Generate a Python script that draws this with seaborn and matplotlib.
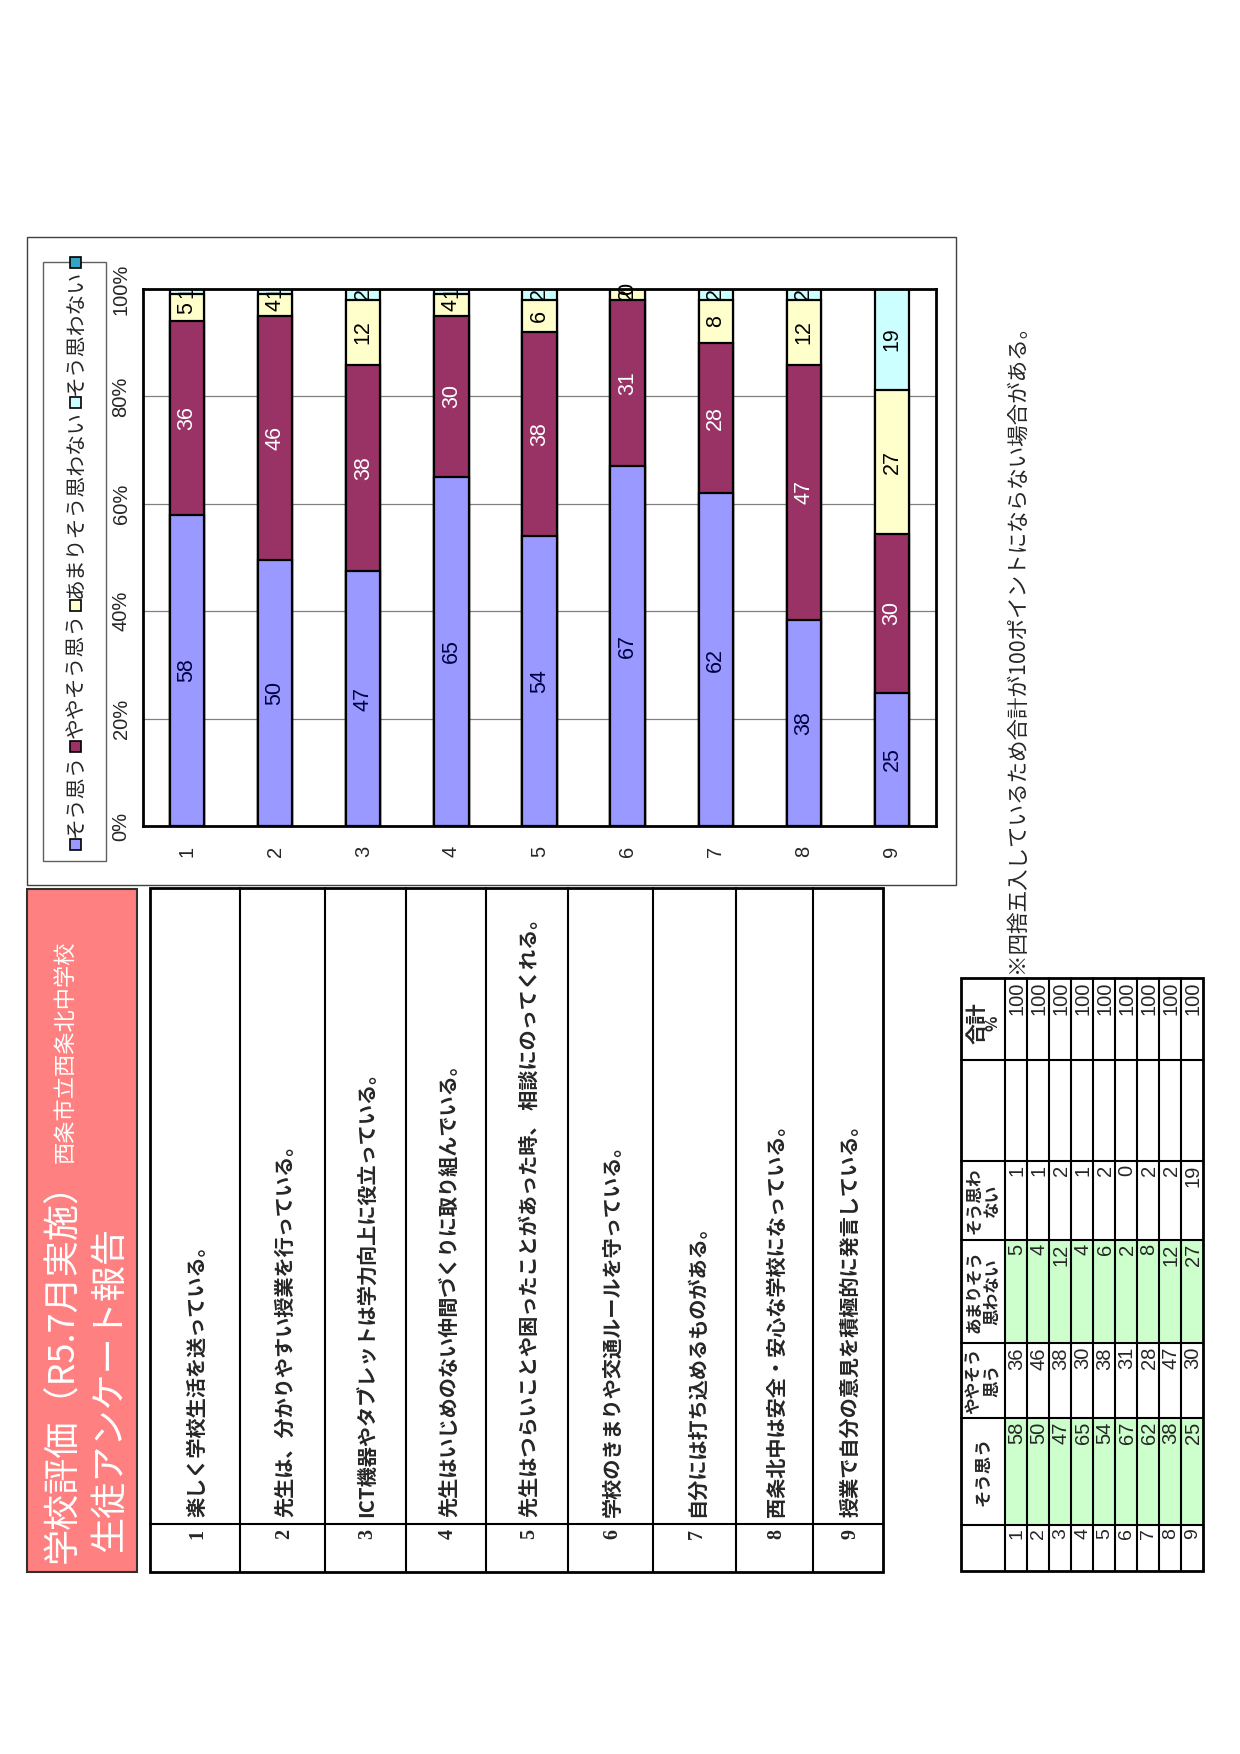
import numpy as np
import pandas as pd
import matplotlib
matplotlib.use('Agg')
import matplotlib.pyplot as plt
import seaborn as sns
from matplotlib.patches import Rectangle

sns.set_style('white')
plt.rcParams['font.family'] = ['Noto Sans CJK JP', 'DejaVu Sans']

# データ
items = ['1', '2', '3', '4', '5', '6', '7', '8', '9']
sou = [58, 50, 47, 65, 54, 67, 62, 38, 25]
yaya = [36, 46, 38, 30, 38, 31, 28, 47, 30]
amari = [5, 4, 12, 4, 6, 2, 8, 12, 27]
sonai = [1, 1, 2, 1, 2, 0, 2, 2, 19]
totals = [100, 100, 100, 100, 100, 100, 100, 100, 100]

series_names = ['そう思う', 'ややそう思う', 'あまりそう思わない', 'そう思わない']
series_colors = ['#9999FF', '#993366', '#FFFFCC', '#CCFFFF']
label_colors = ['#000040', 'white', 'black', 'black']
pct_ticks = [0, 20, 40, 60, 80, 100]

questions = [
    '楽しく学校生活を送っている。',
    '先生は、分かりやすい授業を行っている。',
    'ICT機器やタブレットは学力向上に役立っている。',
    '先生はいじめのない仲間づくりに取り組んでいる。',
    '先生はつらいことや困ったことがあった時、 相談にのってくれる。',
    '学校のきまりや交通ルールを守っている。',
    '自分には打ち込めるものがある。',
    '西条北中は安全・安心な学校になっている。',
    '授業で自分の意見を積極的に発言している。',
]
title1 = '学校評価（R5.7月実施）'
school = '西条市立西条北中学校'
title2 = '生徒アンケート報告'
note = '※四捨五入しているため合計が100ポイントにならない場合がある。'

cols = ['sou', 'yaya', 'amari', 'sonai']
df = pd.DataFrame({'item': items, 'sou': sou, 'yaya': yaya, 'amari': amari, 'sonai': sonai})
pct = df[cols].div(df[cols].sum(axis=1), axis=0) * 100
cum = pct.cumsum(axis=1)

W, H = 1240, 1754
fig = plt.figure(figsize=(12.4, 17.54), dpi=100)
bg = fig.add_axes([0, 0, 1, 1])
bg.set_xlim(0, W)
bg.set_ylim(H, 0)
bg.axis('off')

num_font = ['Liberation Sans', 'DejaVu Sans']


def box(x0, y0, x1, y1, **kw):
    bg.add_patch(Rectangle((x0, y0), x1 - x0, y1 - y0, **kw))


def vtext(x, y, s, **kw):
    # 90度回転した文字（下から上へ）
    kw.setdefault('rotation', 90)
    kw.setdefault('rotation_mode', 'anchor')
    return bg.text(x, y, s, **kw)


# グラフ枠と凡例枠
box(27, 237, 956, 885, fill=False, edgecolor='#404040', lw=1)
box(43, 262, 106, 861, fill=False, edgecolor='#606060', lw=1)

# 積み上げ棒グラフ
ax = fig.add_axes([143 / W, 1 - 826 / H, (936 - 143) / W, (826 - 289) / H])
ax.set_facecolor('white')
for k in range(3, -1, -1):
    d = pd.DataFrame({'item': items, 'top': cum[cols[k]].values})
    sns.barplot(data=d, x='item', y='top', order=items, color=series_colors[k],
                saturation=1, width=0.39, edgecolor='black', linewidth=1.6,
                errorbar=None, ax=ax)
ax.set_xlim(-0.5, 8.5)
ax.set_ylim(0, 100)
ax.set_xlabel('')
ax.set_ylabel('')
ax.yaxis.grid(True, color='#808080', lw=0.9)
ax.set_axisbelow(True)
for s in ax.spines.values():
    s.set_linewidth(2)
    s.set_color('black')
ax.set_yticks(pct_ticks)
ax.set_yticklabels([f'{t}%' for t in pct_ticks], rotation=90, va='center', fontsize=14.5,
                   family=num_font)
ax.tick_params(axis='y', length=0, pad=9)
ax.set_xticks(range(len(items)))
ax.set_xticklabels(items, rotation=90, fontsize=14.5, family=num_font)
ax.tick_params(axis='x', which='major', length=0, pad=14)
ax.set_xticks(np.arange(0.5, 8, 1), minor=True)
ax.tick_params(axis='x', which='minor', direction='in', length=5, width=1, color='#606060')

for i in range(len(items)):
    for k, c in enumerate(cols):
        mid = cum[c].iloc[i] - pct[c].iloc[i] / 2
        ax.text(i, mid, str(df[c].iloc[i]), rotation=90, rotation_mode='anchor',
                ha='center', va='center', color=label_colors[k], fontsize=15.5,
                family=num_font)

# 凡例（手書き配置）
fig.canvas.draw()
r = fig.canvas.get_renderer()
y = 850
lx = 75
for c, lab in zip(series_colors + ['#33A3C6'], series_names + ['']):
    box(lx - 5.5, y - 11, lx + 5.5, y, facecolor=c, edgecolor='black', lw=1.2)
    y -= 13
    if lab:
        t = vtext(lx + 1, y, lab, ha='left', va='center', fontsize=15)
        y -= t.get_window_extent(r).height + 2

# タイトル
box(27, 889, 137, 1572, facecolor='#FF8080', edgecolor='#303030', lw=1.5)
t = vtext(73, 1563, title1, ha='left', va='baseline', fontsize=26, color='white')
h = t.get_window_extent(r).height
vtext(72, 1563 - h - 2, school, ha='left', va='baseline', fontsize=16, color='white')
vtext(120, 1552, title2, ha='left', va='baseline', fontsize=26, color='white')

# 質問表
rows_x = [150, 240, 325, 406, 486, 568, 653, 736, 813, 883]
box(150, 888, 883, 1572, fill=False, edgecolor='black', lw=2)
for x in rows_x[1:-1]:
    bg.plot([x, x], [888, 1572], color='black', lw=1.5)
bg.plot([150, 883], [1524, 1524], color='black', lw=1.5)
for i, q in enumerate(questions):
    cx = (rows_x[i] + rows_x[i + 1]) / 2 + 2
    vtext(cx, 1534, str(i + 1), ha='center', va='center', fontsize=14.5, weight='bold',
          family=['Liberation Serif', 'DejaVu Serif'])
    vtext(cx, 1517, q, ha='left', va='center', fontsize=14.5, weight='bold')

# 注記
vtext(1017, 973, note, ha='left', va='center', fontsize=15.5)

# 数値表
tx = [961, 1005, 1027, 1049, 1071, 1093, 1115, 1137, 1159, 1181, 1203]
ty = [978, 1060, 1161, 1240, 1343, 1418, 1525, 1571]
box(1005, 1418, 1203, 1525, facecolor='#CCFFCC', lw=0)
box(1005, 1240, 1203, 1343, facecolor='#CCFFCC', lw=0)
box(961, 978, 1203, 1571, fill=False, edgecolor='black', lw=2)
for x in tx[1:-1]:
    bg.plot([x, x], [978, 1571], color='black', lw=1.5)
for yy in ty[1:-1]:
    bg.plot([961, 1203], [yy, yy], color='black', lw=1.5)

hx = (tx[0] + tx[1]) / 2
vtext(hx, (ty[5] + ty[6]) / 2, 'そう思う', ha='center', va='center', fontsize=12.5, weight='bold')
vtext(hx, (ty[4] + ty[5]) / 2, 'ややそう\n思う', ha='center', va='center', fontsize=12,
      weight='bold', linespacing=1.0, multialignment='center')
vtext(hx, (ty[3] + ty[4]) / 2, 'あまりそう\n思わない', ha='center', va='center', fontsize=12,
      weight='bold', linespacing=1.0, multialignment='center')
vtext(hx, (ty[2] + ty[3]) / 2, 'そう思わ\nない', ha='center', va='center', fontsize=12,
      weight='bold', linespacing=1.0, multialignment='center')
vtext(hx - 6, (ty[0] + ty[1]) / 2 + 4, '合計', ha='center', va='center', fontsize=15, weight='bold')
vtext(hx + 10, (ty[0] + ty[1]) / 2 + 4, '%', ha='center', va='center', fontsize=11.5, weight='bold')

vals = [sou, yaya, amari, sonai, None, totals]
band_top = [ty[5], ty[4], ty[3], ty[2], None, ty[0]]
for i in range(len(items)):
    cx = (tx[i + 1] + tx[i + 2]) / 2 + 1
    vtext(cx, ty[6] + 3, items[i], ha='right', va='center', fontsize=14, family=num_font)
    for v, bt in zip(vals, band_top):
        if v is None:
            continue
        vtext(cx, bt + 4, str(v[i]), ha='right', va='center', fontsize=14.5, family=num_font)

fig.savefig('out.png', dpi=100)
